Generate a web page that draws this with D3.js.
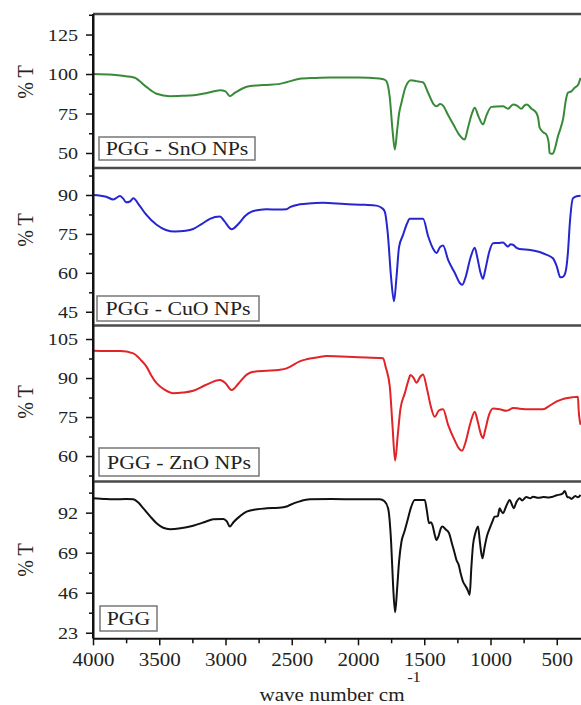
<!DOCTYPE html>
<html>
<head>
<meta charset="utf-8">
<script src="https://cdn.jsdelivr.net/npm/d3@7"></script>
<style>
  html, body { margin: 0; padding: 0; background: #fff; }
  svg { display: block; }
  text { font-family: "Liberation Serif", "Times New Roman", serif; fill: #222; }
</style>
</head>
<body>
<script>
// ---------------- data ----------------
const panelNames = ["PGG - SnO NPs", "PGG - CuO NPs", "PGG - ZnO NPs", "PGG"];
const yAxisTitle = "% T";
const xAxisTitle = "wave number cm";
const xAxisSup = "-1";
const xMajorTicks = [4000, 3500, 3000, 2500, 2000, 1500, 1000, 500];
const xMinorTicks = [3750, 3250, 2750, 2250, 1750, 1250, 750];

const snoMajorTicks = [50, 75, 100, 125];
const snoMinorTicks = [62.5, 87.5, 112.5, 137.5];
const cuoMajorTicks = [45, 60, 75, 90];
const cuoMinorTicks = [52.5, 67.5, 82.5, 97.5];
const znoMajorTicks = [60, 75, 90, 105];
const znoMinorTicks = [52.5, 67.5, 82.5, 97.5];
const pggMajorTicks = [23, 46, 69, 92];
const pggMinorTicks = [34.5, 57.5, 80.5, 103.5];

// [wavenumber cm-1, %T]
const snoSpectrum = [[4000,100],[3850,99.5],[3750,98.6],[3685,97.6],[3600,92],[3520,87.5],[3420,86],[3330,86.2],[3240,86.6],[3140,88],[3040,89.8],[3000,89],[2967,86],[2930,88],[2840,91.9],[2760,92.8],[2690,93.1],[2600,93.6],[2540,94.8],[2440,97],[2330,97.5],[2210,97.8],[2000,97.8],[1840,97.2],[1800,96.5],[1785,95.4],[1760,85],[1740,65],[1722,52.2],[1705,64],[1690,75],[1672,81.8],[1640,92],[1600,96],[1560,95.5],[1510,94.8],[1470,88],[1430,81],[1408,79.6],[1380,81],[1358,80],[1320,74],[1280,68],[1240,62],[1195,58.5],[1170,66],[1140,75],[1119,78.6],[1090,73],[1057,68],[1030,74],[993,79.2],[950,79.5],[906,79.6],[868,78],[830,80.7],[800,80],[767,78],[745,80],[725,80.7],[690,78],[654,75.4],[640,72],[629,66],[600,63],[579,61.7],[560,56],[554,50.1],[540,49.5],[529,49.7],[510,54],[491,60.6],[470,66],[453,71.2],[430,84],[416,88.1],[390,89],[365,91.3],[340,93],[320,97.6]];

const cuoSpectrum = [[4000,90],[3900,89.3],[3847,88.3],[3796,89.6],[3770,88.5],[3751,87.2],[3720,87.5],[3696,88.7],[3650,86],[3600,82.5],[3520,78.5],[3450,76.5],[3382,75.9],[3300,76.2],[3244,76.9],[3180,78.8],[3118,80.8],[3042,81.7],[3010,80],[2954,76.8],[2900,79],[2850,82],[2803,83.6],[2750,84.2],[2690,84.5],[2600,84.4],[2539,84.5],[2514,85.3],[2439,86.4],[2350,86.8],[2263,87],[2100,86.5],[1950,86.2],[1861,85.9],[1820,85],[1798,83.6],[1775,75],[1750,58],[1728,49],[1710,58],[1690,70],[1660,74.6],[1630,79],[1609,80.8],[1509,80.8],[1470,74],[1430,69],[1408,67.6],[1380,70],[1358,70.5],[1320,65],[1270,60],[1230,56],[1212,55.4],[1190,58],[1150,66],[1119,69.7],[1100,66],[1075,60],[1057,57.7],[1040,61],[1010,68],[981,71.4],[940,71.5],[906,71.7],[880,70.5],[868,70.1],[850,71],[830,70.8],[800,69.5],[780,69.2],[700,68.8],[629,68],[580,67],[529,65.6],[500,62.5],[473,58.3],[455,58.4],[441,59.2],[425,63],[416,67.6],[400,80],[378,88.7],[350,89.5],[320,89.7]];

const znoSpectrum = [[4000,100.5],[3900,100.4],[3796,100.4],[3696,99.5],[3640,97],[3595,94.3],[3560,91],[3520,88],[3460,85.5],[3394,84.1],[3320,84.4],[3244,85.1],[3150,87.3],[3042,89.2],[3000,88],[2954,85.4],[2900,88],[2840,91.3],[2791,92.4],[2690,92.8],[2600,93.1],[2539,93.7],[2514,94.3],[2440,96.4],[2389,97.2],[2300,98],[2238,98.5],[2000,98],[1811,97.6],[1790,94],[1760,86.7],[1740,72],[1720,58.2],[1700,68],[1680,78],[1647,84.1],[1620,89],[1604,91.2],[1580,90],[1559,88.2],[1530,90.5],[1509,91.4],[1480,86],[1450,79],[1421,75.1],[1390,77.5],[1358,78],[1320,72],[1270,66],[1240,63],[1215,62],[1190,65],[1150,73],[1119,77],[1095,73],[1070,68],[1057,66.8],[1040,70],[1010,76],[981,78.3],[930,78],[880,77.4],[860,77.7],[830,78.5],[780,78.2],[700,78],[604,78],[550,79.5],[500,81],[460,81.8],[428,82.2],[380,82.6],[340,82.8],[335,78],[327,73.8],[320,72]];

const pggSpectrum = [[4000,100.3],[3900,99.8],[3847,99.7],[3750,99.8],[3696,99.7],[3660,98],[3620,94.5],[3570,90],[3520,85.9],[3470,83.3],[3419,82.5],[3340,83],[3244,84.5],[3150,86.8],[3093,88.2],[3017,88.4],[2990,87],[2967,84],[2940,86.5],[2890,90],[2841,92.6],[2760,94],[2690,94.5],[2600,94.8],[2539,95.5],[2514,96.4],[2440,98.5],[2363,99.7],[2200,99.8],[2000,99.7],[1836,99.7],[1800,98.5],[1773,94.5],[1750,75],[1735,50],[1720,34.7],[1705,48],[1690,64],[1672,75.3],[1650,81],[1622,88.8],[1600,95],[1572,99.3],[1496,99.3],[1480,93],[1464,85.9],[1450,86.5],[1438,84.9],[1420,79],[1408,76.3],[1390,79],[1375,83],[1363,84],[1340,82.5],[1313,80.2],[1290,74],[1275,70],[1257,64.8],[1240,62],[1225,57],[1207,52.3],[1190,50],[1175,48],[1165,46],[1157,44.7],[1145,60],[1132,73.4],[1115,80],[1094,84],[1080,75],[1061,65.8],[1045,72],[1025,79],[1006,83],[985,87],[969,89.7],[945,90],[931,94.5],[920,93],[906,91.7],[880,96],[855,99.3],[840,97],[825,94.5],[805,98],[780,100.3],[760,99],[730,101],[700,100.3],[679,101.2],[640,100.5],[600,101],[560,100.7],[528,101.2],[500,102],[470,102.5],[455,103],[440,104.5],[420,101],[405,100.8],[390,99.9],[360,101.5],[340,100.8],[320,102.2]];

const seriesData = [snoSpectrum, cuoSpectrum, znoSpectrum, pggSpectrum];
const majorTicks = [snoMajorTicks, cuoMajorTicks, znoMajorTicks, pggMajorTicks];
const minorTicks = [snoMinorTicks, cuoMinorTicks, znoMinorTicks, pggMinorTicks];

// ---------------- layout / style ----------------
const W = 581, H = 705;
const plotLeft = 93, plotRight = 581;
const colors = ["#388a38", "#2626d0", "#e02428", "#111111"];
const panelLayout = [
  { top: 14,    bottom: 168,   yDomain: [40.5, 138],   titleY: 82,  box: { x: 99,  y: 137, w: 156, h: 23 } },
  { top: 168,   bottom: 325.5, yDomain: [39.7, 100.4], titleY: 230, box: { x: 97,  y: 296, w: 162, h: 25 } },
  { top: 325.5, bottom: 481.5, yDomain: [50.2, 110.2], titleY: 402, box: { x: 99,  y: 448, w: 160, h: 28 } },
  { top: 481.5, bottom: 638.3, yDomain: [19.8, 109.9], titleY: 560, box: { x: 100, y: 606, w: 57,  h: 25 } }
];

const svg = d3.select("body").append("svg").attr("width", W).attr("height", H);

const x = d3.scaleLinear().domain([4000, 0]).range([plotLeft, 623]);

const line = d3.line().curve(d3.curveMonotoneX);

panelLayout.forEach((p, i) => {
  const y = d3.scaleLinear().domain(p.yDomain).range([p.bottom, p.top]);
  const g = svg.append("g");

  // clip
  const cid = "clip" + i;
  svg.append("clipPath").attr("id", cid).append("rect")
    .attr("x", plotLeft).attr("y", p.top).attr("width", plotRight - plotLeft).attr("height", p.bottom - p.top);

  // spectrum
  line.x(d => x(d[0])).y(d => y(d[1]));
  g.append("path")
    .datum(seriesData[i])
    .attr("clip-path", `url(#${cid})`)
    .attr("fill", "none")
    .attr("stroke", colors[i])
    .attr("stroke-width", 2)
    .attr("stroke-linejoin", "round")
    .attr("d", line);

  // top border
  g.append("line")
    .attr("x1", plotLeft).attr("x2", W).attr("y1", p.top).attr("y2", p.top)
    .attr("stroke", "#4a4a4a").attr("stroke-width", 2.5);

  // y axis minor
  const minorAx = g.append("g").attr("transform", `translate(${plotLeft},0)`)
    .call(d3.axisLeft(y).tickValues(minorTicks[i]).tickSize(4).tickSizeOuter(0).tickFormat(""));
  minorAx.select(".domain").remove();
  minorAx.selectAll("line").attr("stroke", "#111").attr("stroke-width", 1.5);

  // y axis major
  const ax = g.append("g").attr("transform", `translate(${plotLeft},0)`)
    .call(d3.axisLeft(y).tickValues(majorTicks[i]).tickSize(7).tickSizeOuter(0));
  ax.select(".domain").attr("stroke", "#111").attr("stroke-width", 2);
  ax.selectAll(".tick line").attr("stroke", "#111").attr("stroke-width", 1.5);
  ax.selectAll(".tick text")
    .attr("x", null)
    .attr("dy", "0.34em")
    .attr("transform", "translate(-15,0) scale(1.22,1)")
    .style("font-size", "16.5px")
    .style("font-family", '"Liberation Serif", serif')
    .attr("fill", "#222");

  // y axis title
  g.append("text")
    .attr("transform", `translate(33,${p.titleY}) rotate(-90) scale(1,1.2)`)
    .attr("text-anchor", "middle")
    .style("font-size", "20px")
    .attr("fill", "#3a3a3a")
    .text(yAxisTitle);

  // label box
  g.append("rect")
    .attr("x", p.box.x).attr("y", p.box.y).attr("width", p.box.w).attr("height", p.box.h)
    .attr("fill", "#fff").attr("stroke", "#777").attr("stroke-width", 1.5);
  g.append("text")
    .attr("transform", `translate(${p.box.x + p.box.w / 2},${p.box.y + p.box.h / 2 + 6.8}) scale(1.15,1)`)
    .attr("text-anchor", "middle")
    .style("font-size", "19px")
    .attr("fill", "#222")
    .text(panelNames[i]);
});

// x axis
const bottom = panelLayout[3].bottom;
const xMinor = svg.append("g").attr("transform", `translate(0,${bottom})`)
  .call(d3.axisBottom(x).tickValues(xMinorTicks).tickSize(5).tickSizeOuter(0).tickFormat(""));
xMinor.select(".domain").remove();
xMinor.selectAll("line").attr("stroke", "#111").attr("stroke-width", 1.5);

const xAx = svg.append("g").attr("transform", `translate(0,${bottom})`)
  .call(d3.axisBottom(x).tickValues(xMajorTicks).tickSize(7).tickSizeOuter(0).tickFormat(d3.format("d")));
xAx.select(".domain").attr("stroke", "#111").attr("stroke-width", 2);
xAx.selectAll(".tick line").attr("stroke", "#111").attr("stroke-width", 1.5);
xAx.selectAll(".tick text")
  .attr("y", 14)
  .attr("transform", "scale(1.12,1)")
  .style("font-size", "18.8px")
  .style("font-family", '"Liberation Serif", serif')
  .attr("fill", "#222");
// fix scaled x positions: apply scale around each tick's own origin
xAx.selectAll(".tick text").attr("transform", "scale(1.12,1)");

// continuous left axis line
svg.append("line")
  .attr("x1", plotLeft).attr("x2", plotLeft).attr("y1", panelLayout[0].top).attr("y2", bottom)
  .attr("stroke", "#111").attr("stroke-width", 2);

// x axis title
svg.append("text")
  .attr("transform", "translate(332,701) scale(1.11,1)")
  .attr("text-anchor", "middle")
  .style("font-size", "19px")
  .attr("fill", "#222")
  .text(xAxisTitle);
svg.append("text")
  .attr("transform", "translate(414,682) scale(1.1,1)")
  .attr("text-anchor", "middle")
  .style("font-size", "15px")
  .attr("fill", "#222")
  .text(xAxisSup);
</script>
</body>
</html>
